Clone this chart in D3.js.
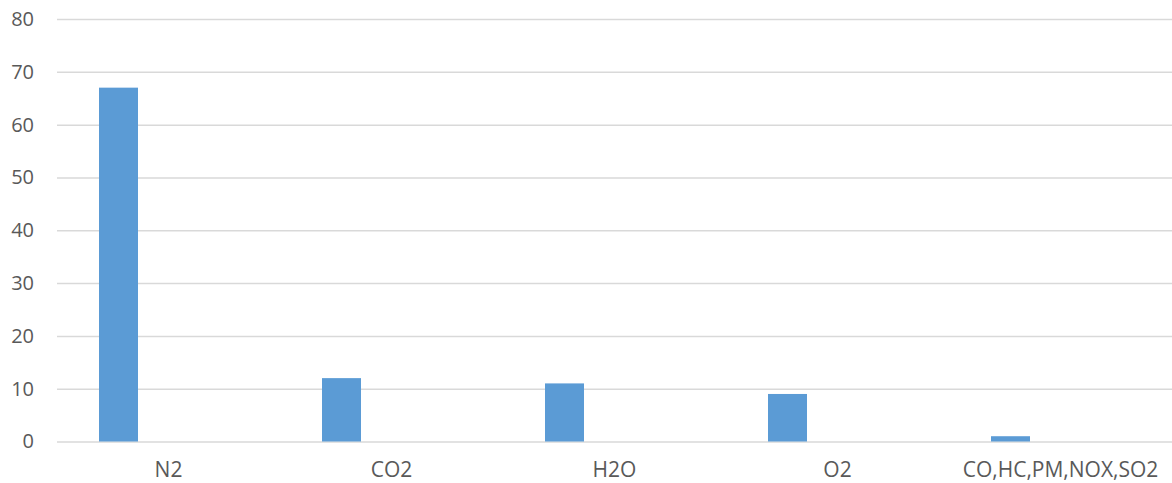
<!DOCTYPE html>
<html><head><meta charset="utf-8">
<script src="https://cdn.jsdelivr.net/npm/d3@7"></script>
<style>body{margin:0;background:#fff}</style>
</head><body><svg id="c" width="1172" height="483"></svg>
<script>
const categories = ["N2", "CO2", "H2O", "O2", "CO,HC,PM,NOX,SO2"];
const values = [67, 12, 11, 9, 1];
const yTicks = [0, 10, 20, 30, 40, 50, 60, 70, 80];

const svg = d3.select("#c");
const mLeft = 57, mRight = 1172, mTop = 19, mBottom = 441.5;
const x = d3.scaleBand().domain(categories).range([mLeft, mRight]).paddingInner(0).paddingOuter(0);
const y = d3.scaleLinear().domain([0, 80]).range([mBottom, mTop]);
const font = "'Open Sans', 'Noto Sans', sans-serif";

const yAxis = d3.axisLeft(y).tickValues(yTicks).tickSize(-(mRight - mLeft)).tickPadding(23);
const gy = svg.append("g").attr("transform", `translate(${mLeft},0)`).call(yAxis);
gy.select(".domain").remove();
gy.selectAll(".tick line").attr("stroke", "#d9d9d9").attr("stroke-width", 1.5);
gy.selectAll(".tick text").attr("fill", "#595959").style("font-family", font).style("font-size", "20px");

const bw = x.bandwidth();
svg.append("g").selectAll("rect").data(values).join("rect")
  .attr("x", (d, i) => x(categories[i]) + bw * 42 / 223)
  .attr("width", bw * 39 / 223)
  .attr("y", d => y(d))
  .attr("height", d => y(0) - y(d))
  .attr("fill", "#5b9bd5");

const xAxis = d3.axisBottom(x).tickSize(0).tickPadding(21);
const gx = svg.append("g").attr("transform", `translate(0,${mBottom})`).call(xAxis);
gx.select(".domain").remove();
gx.selectAll(".tick text").attr("fill", "#595959").style("font-family", font).style("font-size", "21px");
</script></body></html>
